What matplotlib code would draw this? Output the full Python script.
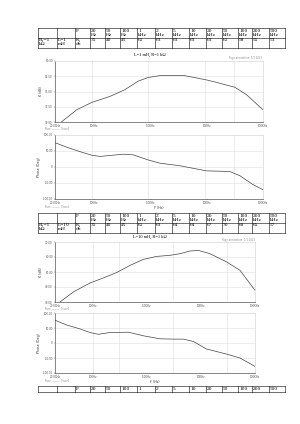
import matplotlib
matplotlib.use('Agg')
import matplotlib.pyplot as plt
from matplotlib.ticker import FixedLocator, FixedFormatter, NullLocator

# ---------------- data ----------------
hdr_freq = ["20\nHz", "50\nHz", "100\nHz", "1\nkHz", "2\nkHz", "5\nkHz", "10\nkHz",
            "20\nkHz", "50\nkHz", "100\nkHz", "200\nkHz", "500\nkHz"]
hdr_short = ["20", "50", "100", "1", "2", "5", "10", "20", "50", "100", "200", "500"]
k_table1 = [35, 40, 45, 61, 63, 63, 63, 63, 61, 58, 55, 53]
k_table2 = [35, 40, 45, 61, 63, 64, 64, 67, 70, 69, 65, 57]
row_labels1 = ["R\u2081=1\nk\u03a9", "L=1\nmH", "K,\ndb"]
row_labels2 = ["R\u2081=1\nk\u03a9", "L=10\nmH", "K,\ndb"]
caption1 = "L=1 mH, R=1 k\u03a9"
caption2 = "L=10 mH, R=1 k\u03a9"

# chart 1 : magnitude (L=1 mH)
f_mag1 = [26, 48.5, 89.5, 190, 350, 604, 908, 1463, 4065, 9863, 14830, 31400, 50600, 100000]
k_mag1 = [30, 36, 39.6, 42.6, 45.9, 50.1, 51.9, 52.8, 52.8, 50.7, 49.5, 47.1, 43.5, 36]
# chart 2 : phase (L=1 mH)
f_ph1 = [20, 32.2, 55.6, 89.5, 126, 190, 327, 492, 908, 1463, 3313, 9863, 25600, 38600, 66400, 100000]
p_ph1 = [76, 62, 48, 37, 33, 36, 40, 38, 22, 12, 4, -12, -14, -27, -55, -71]
# chart 3 : magnitude (L=10 mH)
f_mag2 = [24.7, 43.8, 88.7, 146, 275, 488, 863, 1514, 2680, 4100, 6280, 8970, 14700, 29900, 52800, 100000]
k_mag2 = [30, 36.7, 42.7, 45.6, 49.6, 54.4, 58.4, 60.4, 61.1, 62.2, 64, 64.4, 62.2, 56.7, 51.1, 37.8]
# chart 4 : phase (L=10 mH)
f_ph2 = [20, 32.8, 58, 88.7, 127, 208, 456, 863, 1750, 3100, 4740, 7260, 12700, 29900, 52800, 100000]
p_ph2 = [76, 60, 47, 35, 29, 35, 36, 24, 14, 13, 13, 5, -20, -37, -50, -78]

x_ticks = [20, 100, 1000, 10000, 100000]
x_ticklabels = ["20.00Hz", "100Hz", "1.0KHz", "10KHz", "100KHz"]
mag1_ticks = [30, 37.5, 45, 52.5, 60]
mag2_ticks = [30, 40, 50, 60, 70]
ph_ticks = [-100, -50, 0, 50, 100]

# ---------------- layout ----------------
W, H = 300, 424
fig = plt.figure(figsize=(W / 100, H / 100), dpi=100)
fig.patch.set_facecolor('white')

ov = fig.add_axes([0, 0, 1, 1])
ov.set_xlim(0, W)
ov.set_ylim(H, 0)
ov.axis('off')

col_edges = [38, 56.5, 75, 90, 104.5, 120, 137, 155, 171.5, 189, 206, 221.5, 238, 252, 268.5, 285]
serif = ['Liberation Serif', 'DejaVu Serif']


def draw_table(top, rows_h, rows):
    ys = [top]
    for h in rows_h:
        ys.append(ys[-1] + h)
    for y in ys:
        ov.plot([col_edges[0], col_edges[-1]], [y, y], color='black', lw=0.4)
    for x in col_edges:
        ov.plot([x, x], [ys[0], ys[-1]], color='black', lw=0.4)
    for r, row in enumerate(rows):
        for c, txt in enumerate(row):
            ov.text(col_edges[c] + 1.0, ys[r] + 0.6, str(txt), fontsize=3.9,
                    family=serif, va='top', ha='left', linespacing=1.05)


draw_table(28, [9.5, 10], [["", "", "F"] + hdr_freq, row_labels1 + k_table1])
ov.text(150, 54.5, caption1, fontsize=3.2, family=serif, ha='center', va='center')
draw_table(213, [9.5, 10], [["", "", "F"] + hdr_freq, row_labels2 + k_table2])
ov.text(150, 237, caption2, fontsize=3.2, family=serif, ha='center', va='center')
draw_table(386, [6], [["", "", "F"] + hdr_short])


def rect(l, t, r, b):
    return [l / W, 1 - b / H, (r - l) / W, (b - t) / H]


def style(ax, yticks, ylabels, ylim, ylab, vgrid, xlab=None):
    ax.set_xscale('log')
    ax.set_xlim(20, 100000)
    ax.set_ylim(*ylim)
    ax.xaxis.set_major_locator(FixedLocator(x_ticks))
    ax.xaxis.set_major_formatter(FixedFormatter(x_ticklabels))
    ax.xaxis.set_minor_locator(NullLocator())
    ax.yaxis.set_major_locator(FixedLocator(yticks))
    ax.yaxis.set_major_formatter(FixedFormatter(ylabels))
    ax.tick_params(labelsize=2.0, length=0.8, width=0.3, pad=0.8, colors='#555555')
    for v in vgrid:
        ax.axvline(v, color='#dddddd', lw=0.4, zorder=0)
    for y in yticks[1:-1]:
        ax.axhline(y, color='#dddddd', lw=0.4, zorder=0)
    for s in ['top', 'right']:
        ax.spines[s].set_color('#cccccc')
        ax.spines[s].set_linewidth(0.4)
    for s in ['left', 'bottom']:
        ax.spines[s].set_color('#555555')
        ax.spines[s].set_linewidth(0.5)
    ax.set_ylabel(ylab, fontsize=2.3, labelpad=1.5, color='#333333')
    if xlab:
        ax.set_xlabel(xlab, fontsize=2.3, labelpad=0.8, color='#333333')


grid1 = [90, 900, 9300, 30000]
grid2 = [100, 300, 3000, 30000]
curve = dict(color='#444444', lw=0.5)

a1 = fig.add_axes(rect(55, 61, 263, 122))
a1.plot(f_mag1, k_mag1, **curve)
style(a1, mag1_ticks, ["%.2f" % v for v in mag1_ticks], (30, 60), "K (dB)", grid1)

a2 = fig.add_axes(rect(55, 135, 263, 199))
a2.plot(f_ph1, p_ph1, **curve)
style(a2, ph_ticks, ["-100.00", "-50.00", "0", "50.00", "100.00"], (-100, 100),
      "Phase (Deg)", grid1, "F (Hz)")

a3 = fig.add_axes(rect(55, 242, 255, 302))
a3.plot(f_mag2, k_mag2, **curve)
style(a3, mag2_ticks, ["%.2f" % v for v in mag2_ticks], (30, 70), "K (dB)", grid2)

a4 = fig.add_axes(rect(55, 313, 255, 373))
a4.plot(f_ph2, p_ph2, **curve)
style(a4, ph_ticks, ["-100.00", "-50.00", "0", "50.00", "100.00"], (-100, 100),
      "Phase (Deg)", grid2, "F (Hz)")

# tiny annotations
small = dict(fontsize=1.8, color='#888888')
ov.text(262, 57.5, "Page annotation  1/1 2023", ha='right', va='center', **small)
ov.text(255, 239.5, "Page annotation  1/1 2023", ha='right', va='center', **small)
for y in (129.5, 206.5, 309.0, 381.5):
    ov.text(44, y, "Trace  \u2014\u2014\u2014  Trace1", ha='left', va='center', **small)

fig.savefig('out.png', dpi=100, facecolor='white')
